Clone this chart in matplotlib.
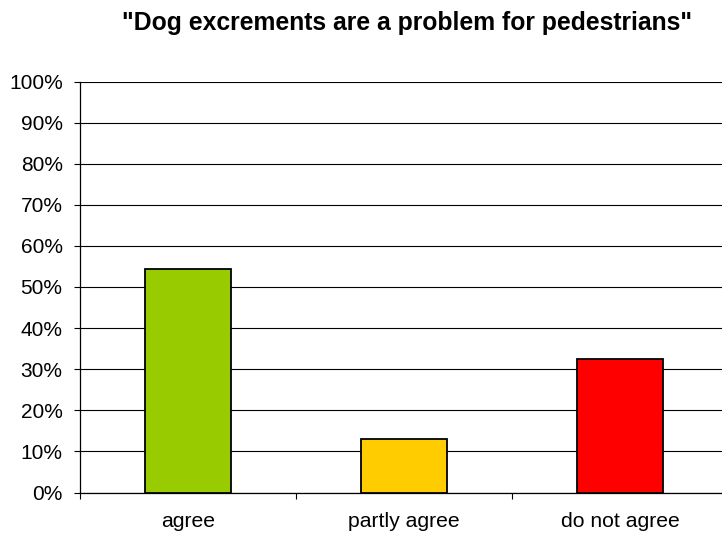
import matplotlib.pyplot as plt
from matplotlib.ticker import FixedLocator

categories = ["agree", "partly agree", "do not agree"]
shares = [54.3, 12.9, 32.4]
bar_colors = ["#99CC00", "#FFCC00", "#FF0000"]
y_ticks = list(range(0, 101, 10))
y_tick_labels = [f"{v}%" for v in y_ticks]

plt.rcParams["font.family"] = ["Liberation Sans", "DejaVu Sans"]

W, H = 722, 538
fig = plt.figure(figsize=(W / 100, H / 100), dpi=100)
# plot area in pixels: left 80, right 728 (runs off the edge), 0% at 492.5, 100% at 81.5
ax = fig.add_axes([80 / W, (H - 492.5) / H, 648 / W, 411 / H])

x = range(len(categories))
ax.bar(x, shares, width=0.4, color=bar_colors, edgecolor="black",
       linewidth=1.3, zorder=3)

ax.set_xlim(-0.5, 2.5)
ax.set_ylim(0, 100)
ax.set_yticks(y_ticks)
ax.set_yticklabels(y_tick_labels, fontsize=15)
ax.set_xticks(list(x))
ax.set_xticklabels(categories, fontsize=15.2)
ax.xaxis.set_minor_locator(FixedLocator([-0.5, 0.5, 1.5, 2.5]))

ax.yaxis.grid(True, color="black", linewidth=0.8, zorder=0)
ax.set_axisbelow(True)

for side in ["top", "right"]:
    ax.spines[side].set_visible(False)
ax.spines["left"].set_linewidth(0.9)
ax.spines["bottom"].set_linewidth(0.9)

ax.tick_params(axis="y", length=4.5, width=0.8, pad=8, colors="black")
ax.tick_params(axis="x", which="major", length=0, pad=14)
ax.tick_params(axis="x", which="minor", length=4.5, width=0.8)

fig.text(407 / W, (H - 30) / H, '"Dog excrements are a problem for pedestrians"',
         ha="center", va="baseline", fontsize=17.8, fontweight="bold")

fig.savefig("out.png", dpi=100)
